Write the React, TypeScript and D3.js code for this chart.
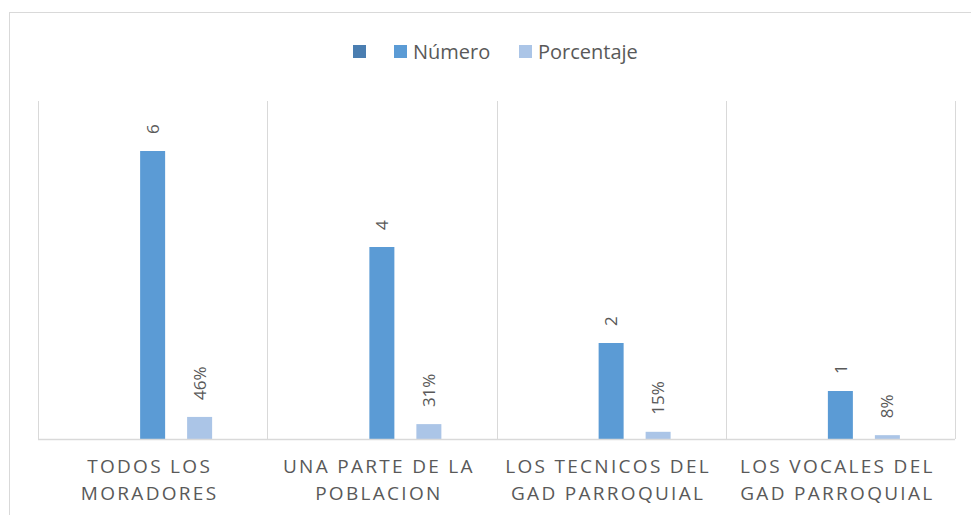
import React from 'react';
import * as d3 from 'd3';

const categories = [
  ['TODOS LOS', 'MORADORES'],
  ['UNA PARTE DE LA', 'POBLACION'],
  ['LOS TECNICOS DEL', 'GAD PARROQUIAL'],
  ['LOS VOCALES DEL', 'GAD PARROQUIAL'],
];
const seriesNames = ['', 'Número', 'Porcentaje'];
const blank: (number | null)[] = [null, null, null, null];
const numero = [6, 4, 2, 1];
const porcentaje = [0.46, 0.31, 0.15, 0.08];
const yTicks = [0, 7];

const colors = ['#4a7eb1', '#5b9bd5', '#abc5e7'];
const textColor = '#595959';
const gridColor = '#d9d9d9';
const font = "'Open Sans', sans-serif";

const W = 971, H = 515;
const plot = { left: 38, right: 955, top: 103, bottom: 439 };

const App = () => {
  const x0 = d3.scaleBand<number>()
    .domain(categories.map((_, i) => i))
    .range([plot.left, plot.right])
    .paddingInner(0);
  const x1 = d3.scaleBand<string>()
    .domain(seriesNames)
    .range([0, x0.bandwidth()])
    .paddingInner(0.468)
    .paddingOuter(1.173);
  const y = d3.scaleLinear().domain([yTicks[0], yTicks[1]]).range([plot.bottom, plot.top]);

  const series = [
    { name: seriesNames[0], values: blank, fmt: (v: number) => String(v) },
    { name: seriesNames[1], values: numero, fmt: d3.format('d') },
    { name: seriesNames[2], values: porcentaje, fmt: d3.format('.0%') },
  ];

  const legendX = [353, 394, 519];
  const bounds = categories.map((_, i) => x0(i)!).concat([plot.right]);

  return (
    <svg width={W} height={H} style={{ position: 'absolute', left: 0, top: 0, background: '#fff' }}>
      <rect x={9.5} y={12.5} width={1000} height={600} fill="#fff" stroke={gridColor} />

      {/* legend */}
      {seriesNames.map((n, i) => (
        <g key={i} transform={`translate(${legendX[i]},0)`}>
          <rect x={0} y={45} width={13} height={13} fill={colors[i]} />
          {n && (
            <text x={19} y={59} fontFamily={font} fontSize={20} fill={textColor}>{n}</text>
          )}
        </g>
      ))}

      {/* vertical gridlines at category boundaries */}
      {bounds.map((bx, i) => (
        <line key={i} x1={Math.round(bx) + 0.5} x2={Math.round(bx) + 0.5}
          y1={plot.top - 2} y2={plot.bottom} stroke={gridColor} />
      ))}

      {/* bars */}
      {series.map((s, si) =>
        s.values.map((v, ci) => {
          if (v == null) return null;
          const bx = x0(ci)! + x1(s.name)!;
          const by = y(v);
          return (
            <g key={`${si}-${ci}`}>
              <rect x={bx} y={by} width={x1.bandwidth()} height={y(0) - by} fill={colors[si]} />
              <text transform={`translate(${bx + x1.bandwidth() / 2},${by - 17}) rotate(-90)`}
                dy="0.36em" fontFamily={font} fontSize={17} fill={textColor}>{s.fmt(v)}</text>
            </g>
          );
        })
      )}

      {/* baseline */}
      <line x1={plot.left} x2={plot.right} y1={plot.bottom + 0.5} y2={plot.bottom + 0.5} stroke={gridColor} strokeWidth={1.5} />

      {/* category labels */}
      {categories.map((lines, i) => (
        <text key={i} fontFamily={font} fontSize={19} fill={textColor} textAnchor="middle"
          letterSpacing={2.3}>
          {lines.map((l, j) => (
            <tspan key={j} x={x0(i)! + x0.bandwidth() / 2 - 3} y={473 + j * 27}>{l}</tspan>
          ))}
        </text>
      ))}
    </svg>
  );
};

export default App;
